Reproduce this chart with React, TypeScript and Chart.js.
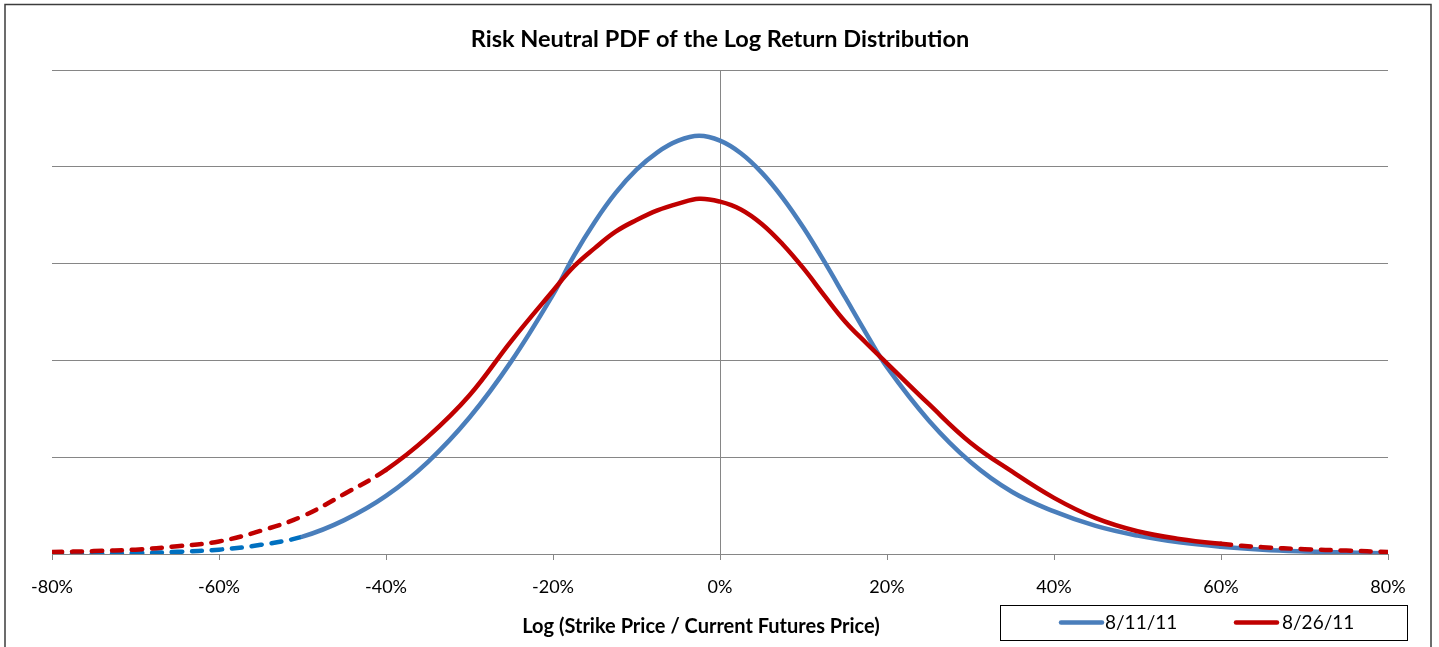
import React, { useEffect, useRef } from 'react';
import { Chart, registerables } from 'chart.js';

Chart.register(...registerables);

// ---- data ----
const chartTitle = 'Risk Neutral PDF of the Log Return Distribution';
const xAxisTitle = 'Log (Strike Price / Current Futures Price)';
const seriesNames = ['8/11/11', '8/26/11'];

// log return, in percent
const xValues = [
  -80, -75, -70, -65, -60, -55, -50, -45, -40, -35, -30, -25, -20, -17.5, -15, -12.5, -10, -7.5, -5, -2.5,
  0, 2.5, 5, 7.5, 10, 12.5, 15, 17.5, 20, 25, 30, 35, 40, 45, 50, 55, 60, 65, 70, 75, 80,
];

// 8/11/11 density (arbitrary units, gridline = 1)
const blueValues = [
  0.0, 0.004, 0.01, 0.022, 0.045, 0.095, 0.18, 0.35, 0.6, 0.95, 1.41, 1.99, 2.68, 3.08, 3.43, 3.73, 3.97, 4.15, 4.27, 4.32,
  4.27, 4.14, 3.94, 3.68, 3.37, 3.02, 2.65, 2.28, 1.93, 1.38, 0.95, 0.64, 0.44, 0.29, 0.19, 0.12, 0.075, 0.045, 0.027, 0.015, 0.008,
];

// 8/26/11 density
const redValues = [
  0.02, 0.03, 0.045, 0.08, 0.13, 0.24, 0.39, 0.62, 0.87, 1.21, 1.64, 2.2, 2.72, 2.97, 3.16, 3.33, 3.45, 3.55, 3.62, 3.67,
  3.64, 3.56, 3.41, 3.2, 2.95, 2.67, 2.4, 2.18, 1.97, 1.55, 1.15, 0.85, 0.58, 0.37, 0.235, 0.155, 0.105, 0.07, 0.05, 0.035, 0.02,
];

// extrapolated (dashed) parts of each curve
const blueDashedBelow = -50;
const redDashedBelow = -40;
const redDashedAbove = 60;

const xMin = -80;
const xMax = 80;
const xStep = 20;
const yMin = 0;
const yMax = 5;

// ---- styles ----
const BLUE = '#4A7EBB';
const BLUE_DASH = '#0070C0';
const RED = '#C00000';
const GRID = '#868686';
const FONT = 'Lato, "Open Sans", sans-serif';
const DASH = [10, 10];

const decorPlugin = {
  id: 'decor',
  beforeDraw(chart: any) {
    const ctx = chart.ctx;
    ctx.save();
    ctx.fillStyle = '#ffffff';
    ctx.fillRect(0, 0, chart.width, chart.height);
    ctx.restore();
  },
  afterDraw(chart: any) {
    const ctx = chart.ctx;
    ctx.save();
    // outer frame
    ctx.strokeStyle = '#3c3c3c';
    ctx.lineWidth = 1.5;
    ctx.strokeRect(5, 4.5, 1426, 700);

    // title
    ctx.fillStyle = '#000';
    ctx.textAlign = 'center';
    ctx.textBaseline = 'middle';
    ctx.font = `bold 23.5px ${FONT}`;
    ctx.fillText(chartTitle, 720, 39);

    // x axis title
    ctx.font = `bold 20px ${FONT}`;
    ctx.fillText(xAxisTitle, 701, 627);

    // legend
    ctx.strokeStyle = '#000';
    ctx.lineWidth = 1;
    ctx.strokeRect(1000.5, 605.5, 407, 35);
    const ly = 622.5;
    ctx.lineWidth = 4.5;
    ctx.lineCap = 'round';
    ctx.strokeStyle = BLUE;
    ctx.beginPath();
    ctx.moveTo(1061, ly);
    ctx.lineTo(1102, ly);
    ctx.stroke();
    ctx.strokeStyle = RED;
    ctx.beginPath();
    ctx.moveTo(1236, ly);
    ctx.lineTo(1277, ly);
    ctx.stroke();
    ctx.font = `19px ${FONT}`;
    ctx.textAlign = 'left';
    ctx.fillStyle = '#000';
    ctx.fillText(seriesNames[0], 1105, ly);
    ctx.fillText(seriesNames[1], 1282, ly);
    ctx.restore();
  },
};

export default function App() {
  const ref = useRef<HTMLCanvasElement>(null);

  useEffect(() => {
    document.body.style.margin = '0';
    const toPoints = (ys: number[]) => xValues.map((x, i) => ({ x, y: ys[i] }));
    const chart = new Chart(ref.current as HTMLCanvasElement, {
      type: 'line',
      data: {
        datasets: [
          {
            label: seriesNames[0],
            data: toPoints(blueValues),
            borderColor: BLUE,
            borderWidth: 4.5,
            pointRadius: 0,
            fill: false,
            tension: 0.4,
            borderCapStyle: 'round',
            borderJoinStyle: 'round',
            order: 1,
            segment: {
              borderColor: (c: any) => (c.p1.parsed.x <= blueDashedBelow ? BLUE_DASH : undefined),
              borderDash: (c: any) => (c.p1.parsed.x <= blueDashedBelow ? DASH : undefined),
            },
          } as any,
          {
            label: seriesNames[1],
            data: toPoints(redValues),
            borderColor: RED,
            borderWidth: 4.5,
            pointRadius: 0,
            fill: false,
            tension: 0.4,
            borderCapStyle: 'round',
            borderJoinStyle: 'round',
            order: 0,
            segment: {
              borderDash: (c: any) =>
                c.p1.parsed.x <= redDashedBelow || c.p0.parsed.x >= redDashedAbove ? DASH : undefined,
            },
          } as any,
        ],
      },
      options: {
        responsive: false,
        animation: false,
        layout: { padding: { left: 52, right: 51, top: 70, bottom: 0 } },
        plugins: {
          legend: { display: false },
          title: { display: false },
          tooltip: { enabled: false },
        },
        scales: {
          x: {
            type: 'linear',
            min: xMin,
            max: xMax,
            ticks: {
              stepSize: xStep,
              callback: (v: any) => `${v}%`,
              color: '#000',
              font: { family: FONT, size: 18 },
              padding: 16,
              maxRotation: 0,
              autoSkip: false,
            },
            grid: {
              color: (c: any) => (c.tick && c.tick.value === 0 ? GRID : 'rgba(0,0,0,0)'),
              tickColor: GRID,
              tickLength: 6,
              lineWidth: 1,
            },
            border: { display: true, color: GRID },
            afterFit: (s: any) => {
              s.height = 93;
            },
          },
          y: {
            min: yMin,
            max: yMax,
            ticks: { display: false, stepSize: 1 },
            grid: { color: GRID, drawTicks: false, lineWidth: 1 },
            border: { display: false },
            afterFit: (s: any) => {
              s.width = 0;
            },
          },
        },
      } as any,
      plugins: [decorPlugin],
    });
    return () => chart.destroy();
  }, []);

  return <canvas ref={ref} width={1439} height={647} style={{ display: 'block' }} />;
}
